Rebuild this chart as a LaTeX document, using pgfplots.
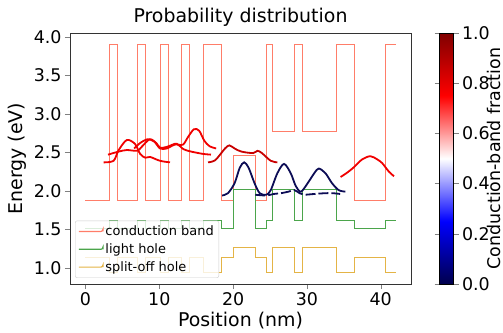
\documentclass[border=0pt]{standalone}
\usepackage{fontspec}
\setmainfont{DejaVu Sans}
\usepackage{pgfplots}
\pgfplotsset{compat=1.18}
\usepackage{pgfplotstable}

\definecolor{cbc}{RGB}{255,125,105}
\definecolor{lhc}{RGB}{75,165,75}
\definecolor{soc}{RGB}{228,180,70}
\definecolor{redA}{RGB}{240,0,0}
\definecolor{redB}{RGB}{200,0,0}
\definecolor{navyc}{RGB}{12,12,85}

\pgfplotstableread{
x cb lh so
0 1.87 1.51 1.13
3.2 3.9 1.61 0.94
4.35 1.87 1.51 1.13
7.0 3.9 1.61 0.94
8.15 1.87 1.51 1.13
10.1 3.9 1.61 0.94
11.25 1.87 1.51 1.13
13.0 3.9 1.61 0.94
14.15 1.87 1.51 1.13
15.95 3.9 1.61 0.94
18.4 1.87 1.51 1.13
20.1 2.46 2.02 1.27
23.05 1.87 1.51 1.13
24.5 3.9 1.61 0.94
25.4 2.77 2.02 1.27
28.3 3.9 1.61 0.94
29.4 2.77 2.02 1.27
33.95 3.9 1.61 0.94
36.5 1.87 1.51 1.13
40.7 3.9 1.61 0.94
42 3.9 1.61 0.94
}\bands

\pgfplotsset{/pgf/number format/assume math mode=true}
\newcommand{\tickf}{\fontsize{17.5}{20}\selectfont}
\newcommand{\bigf}{\fontsize{19}{22}\selectfont}
\newcommand{\cbf}{\fontsize{17.5}{20}\selectfont}
\newcommand{\smallf}{\fontsize{13}{15}\selectfont}

\begin{document}
\begin{tikzpicture}
\path[use as bounding box] (-70bp,-49bp) rectangle (433bp,284bp);
\begin{axis}[
  at={(0,0)}, anchor=south west,
  scale only axis, width=341bp, height=251bp,
  xmin=-2.1, xmax=44.1, ymin=0.792, ymax=4.048,
  xtick={0,10,20,30,40},
  ytick={1,1.5,2,2.5,3,3.5,4},
  yticklabel style={/pgf/number format/.cd, fixed, fixed zerofill, precision=1},
  tick label style={font=\tickf},
  tick pos=left, tick align=outside, major tick length=5bp,
  xlabel={Position (nm)}, ylabel={Energy (eV)},
  label style={font=\bigf},
  title={Probability distribution}, title style={font=\bigf, yshift=-3bp},
  axis line style={black!80},
  colorbar,
  colormap={seismic}{rgb=(0,0,0.3) rgb=(0,0,1) rgb=(1,1,1) rgb=(1,0,0) rgb=(0.5,0,0)},
  point meta min=0, point meta max=1,
  colorbar style={
    width=14bp, at={(parent axis.north east)}, anchor=north west, xshift=20bp,
    ytick={0,0.2,0.4,0.6,0.8,1.0},
    yticklabel style={font=\tickf, /pgf/number format/.cd, fixed, fixed zerofill, precision=1},
    ylabel={Conduction-band fraction},
    ylabel style={font=\cbf, at={(axis description cs:3.9,0.5)}, anchor=center},
    major tick length=5bp, tick align=outside,
  },
  legend style={at={(rel axis cs:0.0147,0.024)}, anchor=south west,
    fill=white, fill opacity=0.8, text opacity=1, draw=black!20,
    rounded corners=2bp, font=\smallf, row sep=2.5bp, inner sep=3bp},
  legend cell align=left,
  legend image code/.code={\draw[#1, line width=1.2bp] plot coordinates {(0cm,0cm) (0.85cm,0cm)};},
]
\addplot[cbc, line width=1bp, const plot mark left, no marks] table[x=x,y=cb] {\bands};
\addlegendentry{conduction band}
\addplot[lhc, line width=1bp, const plot mark left, no marks] table[x=x,y=lh] {\bands};
\addlegendentry{light hole}
\addplot[soc, line width=1bp, const plot mark left, no marks] table[x=x,y=so] {\bands};
\addlegendentry{split-off hole}

% red curves, left
\addplot[redA, line width=1.8bp, smooth, forget plot] coordinates {
(2.47,2.37) (3.8,2.39) (4.5,2.53) (5.6,2.66) (6.7,2.61) (7.4,2.48) (8.1,2.43) (8.75,2.44) (10.1,2.39) (11.45,2.37)};
\addplot[redA, line width=1.8bp, smooth, forget plot] coordinates {
(3.05,2.47) (4.5,2.51) (5.6,2.53) (7.0,2.52) (7.6,2.57) (8.7,2.67) (9.6,2.62) (10.1,2.56) (11.0,2.57) (11.8,2.60) (12.4,2.61) (13.3,2.54) (14.3,2.51) (15.9,2.48) (17.0,2.47)};
\addplot[redA, line width=1.8bp, smooth, forget plot] coordinates {
(6.6,2.55) (7.4,2.62) (8.4,2.67) (9.3,2.64) (10.1,2.55) (11.0,2.55) (12.1,2.60) (13.2,2.60) (13.9,2.70) (14.7,2.80) (15.4,2.78) (16.1,2.65) (16.8,2.58) (17.7,2.55)};
% dark red middle
\addplot[redB, line width=1.8bp, smooth, forget plot] coordinates {
(16.6,2.37) (17.6,2.40) (18.9,2.55) (19.5,2.59) (20.2,2.55) (21.1,2.51) (22.7,2.49) (23.3,2.52) (23.9,2.49) (25.1,2.39) (26.0,2.37)};
% navy
\addplot[navyc, line width=1.8bp, smooth, forget plot] coordinates {
(18.5,1.94) (19.3,1.97) (20.2,2.10) (20.9,2.30) (21.5,2.37) (22.1,2.30) (22.9,2.10) (23.6,1.97) (24.5,1.95) (25.1,2.01) (26.0,2.23) (26.9,2.35) (27.8,2.23) (28.5,2.06) (29.2,1.99) (30.1,2.10) (31.0,2.23) (31.6,2.29) (32.5,2.23) (33.4,2.10) (34.3,2.01) (35.2,1.99)};
\addplot[navyc, line width=1.8bp, smooth, dash pattern=on 10bp off 3bp, forget plot] coordinates {
(23.0,1.95) (24.5,1.94) (25.5,1.96) (26.5,1.97) (27.5,1.99) (28.3,2.01) (29.0,1.97) (29.6,1.95) (31,1.96) (32.5,1.97) (33.5,1.97) (34.5,1.96)};
% red right
\addplot[redA, line width=1.8bp, smooth, forget plot] coordinates {
(34.56,2.18) (35.5,2.24) (36.4,2.31) (37.5,2.41) (38.6,2.45) (39.5,2.41) (40.2,2.36) (41.1,2.25) (41.8,2.19)};
\end{axis}
\end{tikzpicture}
\end{document}
